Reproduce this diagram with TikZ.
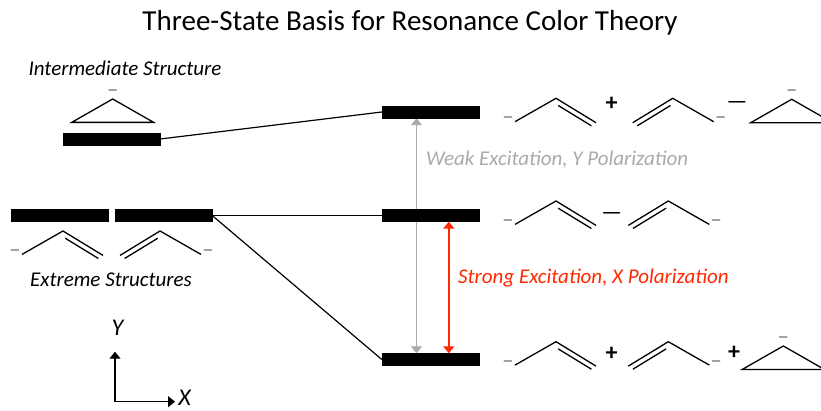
\documentclass[tikz,border=0pt]{standalone}
\usepackage{fontspec}
\setmainfont{Carlito}
\usetikzlibrary{arrows.meta,calc,backgrounds}
\definecolor{weakgray}{RGB}{170,170,170}
\definecolor{strongred}{RGB}{255,40,0}

\begin{document}
\begin{tikzpicture}[x=1pt, y=-1pt, >={Triangle[width=11pt,length=7pt]}]
\tikzset{
bar/.style      = {draw, fill=black, shape=rectangle, minimum width=97pt, minimum height=12pt, inner sep=0pt},
bondline/.style = {line width=1.3pt},
linkline/.style = {line width=1.2pt},
note/.style     = {font=\fontsize{21}{24}\selectfont\itshape, inner sep=0pt},
axisname/.style = {font=\fontsize{24}{26}\selectfont\itshape, inner sep=0pt},
charge/.style   = {font=\fontsize{12}{12}\selectfont\boldmath, inner sep=0pt},
sign/.style     = {font=\fontsize{24}{24}\selectfont\bfseries\boldmath, inner sep=0pt},
allyl/.pic      = {
    \draw[bondline] (-41,23.4) -- (0,0) -- (40,24.4);
    \draw[bondline] (2.2,7.2) -- (35.4,27.5);
    \node[charge] at (-48,19.4) {$-$};
},
allylm/.pic     = {
    \draw[bondline] (41,23.4) -- (0,0) -- (-40,24.4);
    \draw[bondline] (-2.2,7.2) -- (-35.4,27.5);
    \node[charge] at (48,19.4) {$-$};
},
cyclo/.pic      = {
    \draw[bondline] (0,0) -- (41,23.4) -- (-41,23.4) -- cycle;
    \node[charge] at (0,-8.5) {$-$};
},
}
    \useasboundingbox (0,0) rectangle (821,411);

    % Title
    \node [font=\fontsize{29}{32}\selectfont] (title) at (410,23) {Three-State Basis for Resonance Color Theory};

    % Left structures
    \node [note]                (intertext) at (125,68)    {Intermediate Structure};
    \node [bar]                 (inter)     at (111.5,139) {};
    \pic at (112.7,99) {cyclo};

    \node [bar]                 (extL)      at (60,215.5)  {};
    \node [bar]                 (extR)      at (163.5,215.5) {};
    \pic at (63,231) {allyl};
    \pic at (160,231) {allylm};
    \node [note]                (extrtext)  at (111,280)   {Extreme Structures};

    % Energy levels
    \node [bar]                 (top)       at (430.5,112)   {};
    \node [bar]                 (mid)       at (430.5,215.5) {};
    \node [bar]                 (bot)       at (430.5,359.5) {};

    % Level edges
    \draw [linkline]  (inter.east)  --  (top.west);
    \draw [linkline]  (extR.east)   --  (mid.west);
    \draw [linkline]  (extR.east)   --  (bot.west);

    % Transitions
    \begin{scope}[on background layer]
    \draw [<->, weakgray, line width=1.3pt]  ($(top.south west)+(34.7,0)$) -- ($(bot.north west)+(34.7,0)$);
    \draw [<->, strongred, line width=1.5pt] ($(mid.south west)+(67,0)$)   -- ($(bot.north west)+(67,0)$);
    \end{scope}
    \node [note, weakgray,  anchor=west] (weak)   at (426,160) {Weak Excitation, Y Polarization};
    \node [note, strongred, anchor=west] (strong) at (458,278) {Strong Excitation, X Polarization};

    % Top state
    \pic at (556,98.3) {allyl};
    \node [sign] (p1) at (611.7,104.3) {+};
    \node [sign] (m1) at (737,102.3) {$-$};
    \pic at (672.7,98.3) {allylm};
    \pic at (791.7,99.3) {cyclo};

    % Middle state
    \pic at (556,201) {allyl};
    \node [sign] (m2) at (611.7,213.3) {$-$};
    \pic at (668.3,201) {allylm};

    % Bottom state
    \pic at (556,341.7) {allyl};
    \node [sign] (p2) at (611.7,354.3) {+};
    \pic at (668.3,341.7) {allylm};
    \node [sign] (p3) at (734,352.7) {+};
    \pic at (783.3,346) {cyclo};

    % Axes
    \coordinate (axo) at (115,401.7);
    \coordinate (axy) at (115,351.7);
    \coordinate (axx) at (175,401.7);
    \draw [->, linkline]  (axo)  --  (axy);
    \draw [->, linkline]  (axo)  --  (axx);
    \node [axisname] (ylab) at (117.5,327.5) {Y};
    \node [axisname] (xlab) at (184.5,398) {X};

\end{tikzpicture}
\end{document}
